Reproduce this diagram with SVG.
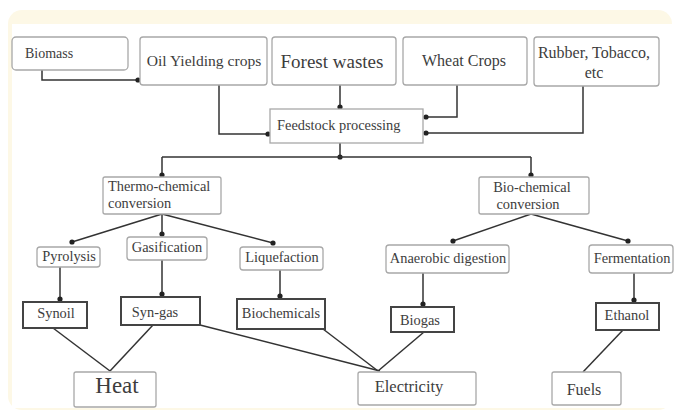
<svg xmlns="http://www.w3.org/2000/svg" width="676" height="412" viewBox="0 0 676 412">
<defs>
<style>
.box{fill:#fff;stroke:#a8a8a8;stroke-width:1.3}
.dbox{fill:#fff;stroke:#444;stroke-width:2}
.t{font-family:'Liberation Serif','Times New Roman',serif;fill:#3d3d3d;font-size:14.4px}
.m{text-anchor:middle}
.c{fill:none;stroke:#333;stroke-width:1.5}
</style>
<marker id="dot" viewBox="0 0 6 6" refX="3" refY="3" markerWidth="6" markerHeight="6" markerUnits="userSpaceOnUse">
<circle cx="3" cy="3" r="2.6" fill="#222"/>
</marker>
</defs>
<rect x="0" y="0" width="676" height="412" fill="#fff"/>
<rect x="8" y="10" width="664" height="400" rx="14" fill="#fdf8e6"/>
<rect x="12" y="24" width="664" height="384" fill="#fff"/>

<g id="connectors" class="c">
<path d="M42,70 V80 H138" marker-end="url(#dot)"/>
<path d="M219,85 V134 H268" marker-end="url(#dot)"/>
<path d="M340,85 V107" marker-end="url(#dot)"/>
<path d="M457,85 V117 H426" marker-end="url(#dot)"/>
<path d="M583,86 V133 H426" marker-end="url(#dot)"/>
<path d="M340,143 V157" marker-end="url(#dot)"/>
<path d="M162,157 H531"/>
<path d="M162,157 V175" marker-end="url(#dot)"/>
<path d="M531,157 V175" marker-end="url(#dot)"/>
<path d="M162,214 L72,242" marker-end="url(#dot)"/>
<path d="M162,214 V234" marker-end="url(#dot)"/>
<path d="M162,214 L273,243" marker-end="url(#dot)"/>
<path d="M531,214 L453,241" marker-end="url(#dot)"/>
<path d="M531,214 L628,241" marker-end="url(#dot)"/>
<path d="M60,267 V299" marker-end="url(#dot)"/>
<path d="M162,260 V294" marker-end="url(#dot)"/>
<path d="M280,270 V296" marker-end="url(#dot)"/>
<path d="M423,273 V304" marker-end="url(#dot)"/>
<path d="M634,273 V300" marker-end="url(#dot)"/>
<path d="M53,328 L110,371"/>
<path d="M153,325 L110,371"/>
<path d="M200,325 L380,371"/>
<path d="M323,329 L378,371"/>
<path d="M424,332 L378,371"/>
<path d="M623,330 L583,372"/>
</g>

<g id="biomass"><rect class="box" x="12" y="37" width="116" height="33" rx="4"/><text class="t" x="25" y="58" style="font-size:14px">Biomass</text></g>
<g id="oil"><rect class="box" x="140" y="37" width="127" height="48" rx="3"/><text class="t m" x="204" y="66" style="font-size:15.6px">Oil Yielding crops</text></g>
<g id="forest"><rect class="box" x="272" y="37" width="124" height="48" rx="3"/><text class="t m" x="332" y="68" style="font-size:19px">Forest wastes</text></g>
<g id="wheat"><rect class="box" x="403" y="37" width="124" height="48" rx="3"/><text class="t m" x="464" y="66" style="font-size:16px">Wheat Crops</text></g>
<g id="rubber"><rect class="box" x="534" y="37" width="125" height="49" rx="3"/><text class="t m" x="594" y="58" style="font-size:16px">Rubber, Tobacco,</text><text class="t m" x="594" y="78" style="font-size:16px">etc</text></g>
<g id="feedstock"><rect class="box" x="270" y="109" width="153" height="34"/><text class="t" x="277" y="130">Feedstock processing</text></g>
<g id="thermo"><rect class="box" x="103" y="177" width="118" height="37" rx="2"/><text class="t" x="108" y="191">Thermo-chemical</text><text class="t" x="108" y="208">conversion</text></g>
<g id="bio"><rect class="box" x="479" y="177" width="110" height="37" rx="2"/><text class="t m" x="532" y="192">Bio-chemical</text><text class="t m" x="528" y="209">conversion</text></g>
<g id="pyrolysis"><rect class="box" x="37" y="247" width="63" height="20" rx="3"/><text class="t m" x="69" y="261">Pyrolysis</text></g>
<g id="gasification"><rect class="box" x="127" y="237" width="80" height="23" rx="3"/><text class="t m" x="167" y="252">Gasification</text></g>
<g id="liquefaction"><rect class="box" x="240" y="247" width="83" height="23" rx="3"/><text class="t m" x="282" y="262">Liquefaction</text></g>
<g id="anaerobic"><rect class="box" x="386" y="245" width="123" height="28" rx="3"/><text class="t m" x="448" y="263">Anaerobic digestion</text></g>
<g id="fermentation"><rect class="box" x="589" y="245" width="84" height="28" rx="3"/><text class="t m" x="632" y="263">Fermentation</text></g>
<g id="synoil"><rect class="dbox" x="23" y="302" width="64" height="26"/><text class="t m" x="56" y="318">Synoil</text></g>
<g id="syngas"><rect class="dbox" x="121" y="297" width="79" height="28"/><text class="t m" x="155" y="317">Syn-gas</text></g>
<g id="biochemicals"><rect class="dbox" x="237" y="299" width="88" height="30"/><text class="t m" x="281" y="318">Biochemicals</text></g>
<g id="biogas"><rect class="dbox" x="391" y="307" width="63" height="25"/><text class="t m" x="420" y="325">Biogas</text></g>
<g id="ethanol"><rect class="dbox" x="596" y="303" width="63" height="27"/><text class="t m" x="627" y="320">Ethanol</text></g>
<g id="heat"><rect class="box" x="74" y="372" width="82" height="35" rx="2"/><text class="t m" x="117" y="393" style="font-size:23px">Heat</text></g>
<g id="electricity"><rect class="box" x="358" y="372" width="118" height="33" rx="2"/><text class="t m" x="409" y="392" style="font-size:16.5px">Electricity</text></g>
<g id="fuels"><rect class="box" x="552" y="372" width="69" height="33" rx="2"/><text class="t m" x="584" y="395" style="font-size:16px">Fuels</text></g>
</svg>
